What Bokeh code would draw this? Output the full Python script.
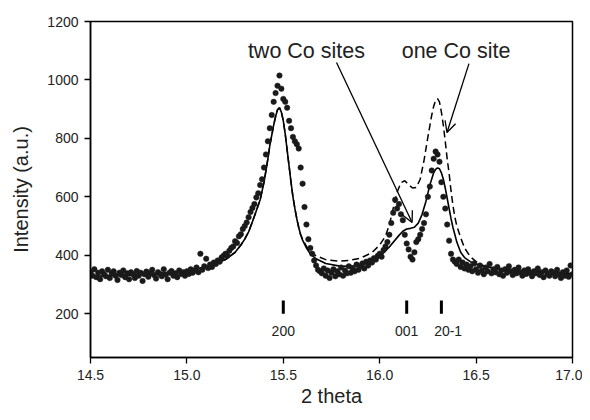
import numpy as np
from bokeh.plotting import figure
from bokeh.models import Range1d, FixedTicker, Arrow, OpenHead, Label, CustomJSTickFormatter, ColumnDataSource
from bokeh.embed import file_html
from bokeh.resources import INLINE
from bokeh.core.properties import value

# ---------------- data ----------------
two_theta = [round(14.5 + 0.01 * i, 2) for i in range(251)]
intensity = [
    342, 330, 352, 325, 340, 318, 345, 335, 328, 350,
    322, 338, 345, 330, 315, 340, 332, 348, 325, 338,
    318, 342, 335, 322, 346, 330, 340, 312, 335, 344,
    326, 338, 350, 332, 320, 342, 336, 328, 352, 334,
    318, 340, 346, 330, 338, 325, 348, 336, 342, 330,
    345, 336, 352, 340, 348, 358, 342, 405, 350, 362,
    388, 356, 368, 360, 375, 370, 382, 378, 392, 398,
    405, 398, 415, 425, 430, 448, 442, 465, 472, 490,
    500, 512, 530, 548, 562, 575, 598, 612, 640, 660,
    700, 745, 790, 835, 880, 925, 955, 980, 1015, 970,
    935, 925, 905, 860, 835, 805, 790, 780, 765, 700,
    645, 565, 505, 455, 425, 405, 382, 365, 350, 345,
    338, 355, 330, 348, 322, 340, 352, 328, 345, 335,
    358, 330, 348, 338, 362, 340, 355, 345, 368, 350,
    362, 372, 355, 378, 365, 382, 375, 390, 385, 398,
    405, 395, 418, 430, 445, 470, 510, 545, 590, 560,
    575, 540, 520, 470, 440, 420, 395, 385, 410, 445,
    455, 470, 490, 510, 540, 600, 635, 690, 730, 755,
    745, 720, 650, 600, 560, 505, 450, 405, 385, 378,
    370, 385, 360, 375, 355, 368, 350, 362, 345, 372,
    352, 340, 365, 348, 335, 358, 345, 370, 338, 352,
    342, 360, 335, 348, 330, 352, 340, 362, 345, 332,
    350, 338, 358, 342, 330, 348, 336, 352, 340, 328,
    345, 338, 355, 332, 342, 325, 348, 336, 330, 345,
    340, 328, 350, 335, 322, 342, 330, 348, 326, 365,
    335,
]

two_sites_x = [14.50, 14.70, 14.90, 15.00, 15.10, 15.20, 15.25, 15.28, 15.30, 15.32,
               15.34, 15.36, 15.38, 15.40, 15.41, 15.42, 15.43, 15.44, 15.45, 15.46,
               15.47, 15.48, 15.49, 15.50, 15.51, 15.52, 15.53, 15.54, 15.55, 15.56,
               15.57, 15.58, 15.59, 15.60, 15.62, 15.64, 15.67, 15.72, 15.80, 15.88,
               15.95, 16.00, 16.05, 16.10, 16.12, 16.14, 16.16, 16.18, 16.20, 16.22,
               16.24, 16.26, 16.28, 16.29, 16.30, 16.31, 16.32, 16.33, 16.34, 16.35,
               16.36, 16.37, 16.38, 16.39, 16.40, 16.42, 16.44, 16.47, 16.52, 16.60,
               16.75, 16.90, 17.00]
two_sites_y = [328, 332, 340, 348, 360, 385, 410, 435, 455, 480,
               515, 552, 590, 650, 690, 730, 775, 810, 845, 875,
               898, 905, 890, 860, 815, 760, 705, 650, 600, 560,
               525, 495, 470, 452, 425, 405, 388, 372, 362, 364,
               378, 395, 428, 468, 482, 490, 492, 496, 510, 540,
               585, 640, 682, 694, 699, 696, 682, 660, 630, 595,
               560, 525, 495, 470, 445, 410, 392, 378, 365, 355,
               345, 340, 337]

one_site_x = [14.50, 14.70, 14.90, 15.00, 15.10, 15.20, 15.25, 15.28, 15.30, 15.32,
              15.34, 15.36, 15.38, 15.40, 15.41, 15.42, 15.43, 15.44, 15.45, 15.46,
              15.47, 15.48, 15.49, 15.50, 15.51, 15.52, 15.53, 15.54, 15.55, 15.56,
              15.57, 15.58, 15.59, 15.60, 15.62, 15.64, 15.67, 15.72, 15.78, 15.84,
              15.90, 15.96, 16.00, 16.03, 16.05, 16.07, 16.09, 16.11, 16.13, 16.15,
              16.17, 16.19, 16.21, 16.23, 16.25, 16.27, 16.28, 16.29, 16.30, 16.31,
              16.32, 16.33, 16.34, 16.35, 16.36, 16.37, 16.38, 16.39, 16.40, 16.42,
              16.44, 16.47, 16.50, 16.55, 16.62, 16.75, 16.90, 17.00]
one_site_y = [328, 332, 340, 348, 360, 385, 410, 435, 455, 480,
              515, 552, 590, 650, 690, 730, 775, 810, 845, 875,
              898, 905, 890, 860, 815, 760, 705, 650, 600, 560,
              525, 495, 470, 455, 430, 412, 398, 385, 380, 382,
              390, 409, 435, 465, 505, 560, 615, 648, 655, 642,
              630, 632, 660, 725, 805, 880, 910, 930, 936, 925,
              890, 845, 790, 730, 680, 620, 570, 530, 500, 460,
              425, 395, 378, 360, 350, 345, 340, 337]

reflection_pos = [15.50, 16.14, 16.32]
reflection_label_pos = [15.50, 16.14, 16.355]
reflection_labels = ["200", "001", "20-1"]
x_ticks = [14.5, 15.0, 15.5, 16.0, 16.5, 17.0]
y_ticks = [200, 400, 600, 800, 1000, 1200]

# ---------------- figure ----------------
FONT = "Liberation Sans"
INK = "#222222"

p = figure(width=582, height=412, output_backend="svg", toolbar_location=None,
           x_range=Range1d(14.5, 17.0), y_range=Range1d(50, 1200),
           min_border_left=90, min_border_right=10, min_border_top=21, min_border_bottom=55)
p.grid.visible = False
p.background_fill_color = "white"
p.border_fill_color = "white"
p.outline_line_color = "black"
p.outline_line_width = 1.5
p.outline_line_alpha = 1.0

for ax in (p.xaxis[0], p.yaxis[0]):
    ax.axis_line_width = 1.5
    ax.axis_line_color = "black"
    ax.major_tick_line_color = "black"
    ax.major_tick_line_width = 1.3
    ax.major_tick_out = 6
    ax.major_tick_in = 0
    ax.minor_tick_line_color = None
    ax.major_label_text_font = FONT
    ax.major_label_text_font_size = "14px"
    ax.major_label_text_color = INK
    ax.axis_label_text_font = FONT
    ax.axis_label_text_font_style = "normal"
    ax.axis_label_text_font_size = "20px"
    ax.axis_label_text_color = INK

p.xaxis.ticker = FixedTicker(ticks=x_ticks)
p.yaxis.ticker = FixedTicker(ticks=y_ticks)
p.xaxis.formatter = CustomJSTickFormatter(code="return tick.toFixed(1)")
p.xaxis.axis_label = "2 theta"
p.yaxis.axis_label = "Intensity (a.u.)"
p.xaxis.major_label_standoff = 6
p.xaxis.axis_label_standoff = 2
p.yaxis.major_label_standoff = 6
p.yaxis.axis_label_standoff = 12

# curves
p.line(one_site_x, one_site_y, line_color="black", line_width=1.5, line_dash="7 4")
p.line(two_sites_x, two_sites_y, line_color="black", line_width=1.6)

# data points
p.scatter(two_theta, intensity, size=5.5, fill_color="#1a1a1a", line_color="#1a1a1a", line_width=0.5)

# reflection markers
p.segment(x0=reflection_pos, y0=[200] * 3, x1=reflection_pos, y1=[245] * 3,
          line_color="black", line_width=3)
src = ColumnDataSource(dict(x=reflection_label_pos, y=[140] * 3, t=reflection_labels))
p.text(x="x", y="y", text="t", source=src, text_font=value(FONT), text_font_size="14px",
       text_align="center", text_baseline="middle", text_color=INK)

# annotations
p.add_layout(Label(x=15.62, y=1100, text="two Co sites", text_font=FONT, text_font_size="21.5px",
                   text_align="center", text_baseline="middle", text_color=INK))
p.add_layout(Label(x=16.396, y=1100, text="one Co site", text_font=FONT, text_font_size="21.5px",
                   text_align="center", text_baseline="middle", text_color=INK))
p.add_layout(Arrow(end=OpenHead(size=11, line_width=1.3, line_color="black"),
                   x_start=15.776, y_start=1060, x_end=16.168, y_end=512,
                   line_width=1.3, line_color="black"))
p.add_layout(Arrow(end=OpenHead(size=11, line_width=1.3, line_color="black"),
                   x_start=16.463, y_start=1056, x_end=16.349, y_end=820,
                   line_width=1.3, line_color="black"))

open("out.html", "w").write(file_html(p, INLINE))
